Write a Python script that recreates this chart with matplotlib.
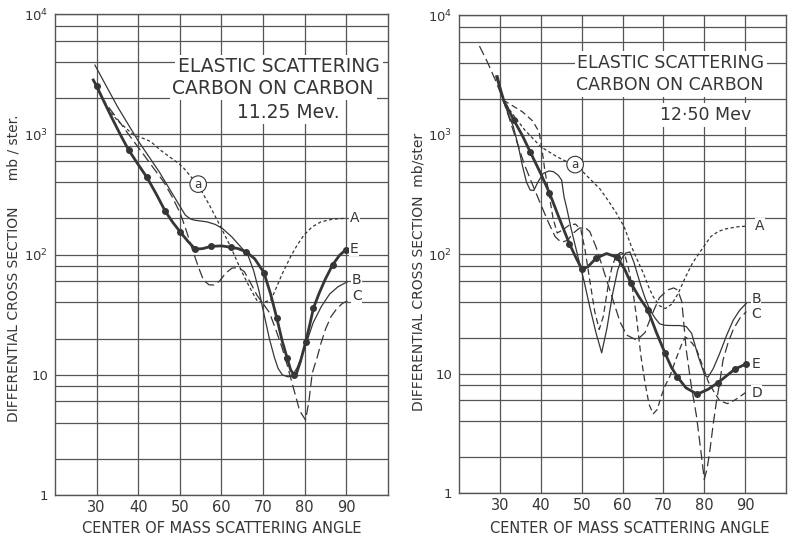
"""
Elastic scattering of carbon on carbon: differential cross section vs
centre-of-mass angle, at 11.25 MeV (left) and 12.50 MeV (right).
Curves are read by eye off the scanned figure.
"""
import matplotlib
matplotlib.use("Agg")
import matplotlib.pyplot as plt
from matplotlib.ticker import FixedLocator, NullFormatter

INK = "#363636"
GRID = "#555555"

# --- 11.25 MeV panel ---
L_E_ANG = [29.2, 30, 32, 34, 36, 37.7, 40, 42.1, 44.3, 46.5, 48.3, 50.1, 52, 53.7,
           55.5, 57.5, 60, 62.2, 64, 66, 68, 70.2, 71.8, 73.3, 74.6, 75.8, 76.6,
           77.4, 78, 79, 80.2, 81.2, 82.1, 83.5, 85, 86.7, 88.3, 89.9]
L_E_XS = [2830, 2520, 1800, 1300, 950, 740, 560, 438, 320, 229, 185, 154, 128, 111,
          112, 117, 118, 115, 112, 105, 92, 70.6, 47, 29.5, 19, 13.7, 11,
          10, 10.2, 13, 18.6, 26, 35.9, 48, 63, 82, 98, 110]
L_PTS_ANG = [30, 37.7, 42.1, 46.5, 50.1, 53.7, 57.5, 62.2, 66, 70.2, 73.3, 75.8,
             77.4, 80.2, 82.1, 86.7, 89.9]
L_PTS_XS = [2520, 740, 438, 229, 154, 111, 117, 115, 105, 70.6, 29.5, 13.7,
            10, 18.6, 35.9, 82, 110]

L_A_ANG = [29.6, 31, 32.4, 35, 38.9, 41, 43, 45.3, 47.5, 49.7, 51, 52.5, 54.4, 57.3,
           59.8, 62.2, 64.2, 66, 67.5, 68.6, 70, 71.8, 72.6, 74.5, 76.6, 78.2, 79.8,
           81.8, 83.9, 86.5, 89.5]
L_A_XS = [2700, 2100, 1700, 1300, 986, 930, 870, 740, 650, 573, 520, 450, 380, 250,
          170, 116, 81, 60, 48, 41, 40, 41.7, 47.6, 68, 96, 120, 145,
          170, 187, 196, 200]

L_B_ANG = [29.6, 35, 40, 45, 49.5, 51.3, 52.5, 53.5, 55, 56.5, 58.5, 60.2, 62.5, 64.6,
           66.3, 67.7, 69, 70.3, 71.5, 72.7, 73.6, 74.6, 76, 77, 78.2, 79.2, 80.2,
           82, 84, 86, 88, 90.3]
L_B_XS = [3760, 1700, 880, 490, 270, 213, 198, 193, 190, 187, 178, 165, 140, 116,
          100, 74, 50, 31, 20, 14, 11.3, 10, 9.6, 9.8, 11.5, 14, 17.5,
          27, 37, 47, 54, 59.5]

L_C_ANG = [29.5, 31.6, 35, 38, 41, 44, 46.1, 48.2, 50.1, 51.5, 53, 54.5, 55.7, 57,
           58.2, 59.5, 61, 62.5, 64, 65.5, 67, 68.5, 70, 71.5, 73, 74.5, 75.8, 77.4,
           78.8, 80.2, 81, 81.8, 83, 83.9, 85, 86.3, 87.7, 89.1, 90.6]
L_C_XS = [2700, 1930, 1340, 965, 700, 505, 403, 300, 220, 160, 110, 78, 61, 56,
          55.8, 60, 70, 77, 78, 72, 58, 46, 39, 33, 24, 17, 12, 7.5,
          5, 4.2, 6, 10.3, 14, 18.3, 24, 30.4, 35.5, 39.3, 41.7]

# --- 12.50 MeV panel ---
R_E_ANG = [29.2, 31, 33.4, 35.5, 37.4, 40, 42.1, 44.5, 47, 48.5, 50, 51.5, 53.5, 56.1,
           58.6, 60.5, 62, 64, 66.2, 68.3, 70.4, 72, 73.4, 75.5, 78.3, 81, 83.4,
           85.5, 87.5, 90.2]
R_E_XS = [3050, 1900, 1320, 980, 718, 470, 326, 200, 122, 95, 75, 78, 92, 101,
          94, 75, 57.5, 44, 34, 22, 14.8, 11.2, 9.4, 7.6, 6.7, 7.4, 8.4,
          9.6, 10.9, 12]
R_PTS_ANG = [33.4, 37.4, 42.1, 47, 50, 53.5, 58.6, 62, 66.2, 70.4, 73.4, 78.3,
             83.4, 87.5, 90.2]
R_PTS_XS = [1320, 718, 326, 122, 75, 92, 94, 57.5, 34, 14.8, 9.4, 6.7,
            8.4, 10.9, 12]

R_A_ANG = [30.8, 33, 36, 40, 44, 48, 50, 52.3, 54.5, 56.4, 58.5, 60.4, 62.2, 63.7,
           65.1, 66.5, 67.5, 69, 70.5, 72, 73.5, 75.3, 77.2, 79.3, 81.6, 83.5, 85.5,
           88.1, 90.2]
R_A_XS = [1940, 1500, 1100, 790, 650, 556, 500, 416, 350, 283, 220, 169, 115, 88,
          69, 52, 44, 37, 35, 38, 46, 63, 85, 108, 140, 155, 163,
          169, 171]

R_B_ANG = [29.5, 30.8, 32, 33.3, 34.5, 35.5, 36.5, 37.4, 38.3, 39.3, 40.6, 42, 43.1,
           44.3, 45.1, 45.7, 46.5, 47.4, 49, 50.6, 52, 53.5, 54.9, 56.2, 57.5, 58.8,
           59.8, 60.8, 61.8, 62.8, 64.3, 65.5, 66.7, 68, 69.1, 70.5, 72.4, 74, 75.6,
           76.9, 78.5, 80.1, 80.9, 82.2, 83.8, 85.5, 87.1, 88.7, 90.3]
R_B_XS = [3100, 1940, 1500, 1160, 800, 550, 400, 343, 340, 400, 473, 495, 489,
          455, 416, 300, 230, 164, 98, 59, 36, 22, 14.9, 24, 45, 73,
          92, 102, 104, 85, 57, 43, 34, 29, 26, 25.3, 25.2, 25.2, 24.7,
          21.7, 14, 9.7, 9.3, 11, 14.8, 21, 28, 34, 38.7]

R_C_ANG = [25, 27, 29, 30.8, 32.5, 34, 36, 38, 40, 42, 43.5, 45, 46.5, 48, 49.5, 51,
           52, 53.5, 55, 56.5, 58, 59.4, 61, 63.5, 65.5, 67, 69, 71, 72.5, 73.5,
           74.5, 75.6, 76.8, 78.1, 79.2, 80, 80.7, 81.4, 82.2, 83, 83.8, 84.6, 85.8,
           87.1, 88.7, 90.3]
R_C_XS = [5500, 4000, 2800, 1940, 1300, 900, 560, 380, 260, 180, 140, 125, 130, 150,
          165, 165, 154, 115, 80, 55, 38, 27, 21, 19, 22, 30, 43, 50, 52, 50,
          40, 15.7, 8, 4.4, 2.2, 1.3, 1.6, 2.3, 3.8, 5.9, 8.5, 13, 18,
          23.4, 29, 33]

R_D_ANG = [30.8, 33, 35.5, 38, 39.6, 40.3, 41, 42, 43, 44, 45.5, 47, 48.5, 49.8, 50.8,
           52, 53.2, 54.3, 55.3, 56.5, 57.5, 58.5, 59.5, 60.5, 61.5, 62.5, 63.4, 64.5,
           65.5, 66.5, 67.5, 68.5, 69.5, 70.5, 71.6, 73, 74.8, 75.6, 77, 78.1, 80,
           81, 82.2, 83.8, 85.7, 87.5, 90.3]
R_D_XS = [1940, 1750, 1550, 1300, 1050, 750, 500, 320, 200, 150, 160, 175, 178, 160,
          110, 60, 33, 23.4, 30, 55, 80, 97, 103, 100, 75, 50, 30, 14,
          8.4, 5.5, 4.6, 5, 6.5, 8, 9.5, 13, 18.8, 20, 18, 16, 10.6,
          8.5, 7.2, 5.9, 5.6, 6, 7]

TITLE_L = ["ELASTIC SCATTERING", "CARBON ON CARBON", "11.25 Mev."]
TITLE_R = ["ELASTIC SCATTERING", "CARBON ON CARBON", "12·50 Mev"]
XTICKS = [30, 40, 50, 60, 70, 80, 90]
YTICKS = [1, 10, 100, 1000, 10000]
YTICK_LABELS = ["1", "10", "$10^2$", "$10^3$", "$10^4$"]
YMINOR = [m * d for d in (1, 10, 100, 1000) for m in (2, 4, 6, 8)]

SHORT = (0, (2.6, 2.0))
LONG = (0, (8.0, 3.5))
MEDIUM = (0, (5.0, 3.0))


def frame(ax, ylabel, ylab_xy, xlab_xy):
    ax.set_yscale("log")
    ax.set_xlim(20, 100)
    ax.set_ylim(1, 1e4)
    ax.xaxis.set_major_locator(FixedLocator(XTICKS))
    ax.yaxis.set_major_locator(FixedLocator(YTICKS))
    ax.yaxis.set_minor_locator(FixedLocator(YMINOR))
    ax.yaxis.set_minor_formatter(NullFormatter())
    ax.set_yticklabels(YTICK_LABELS)
    ax.tick_params(which="both", length=0, colors=INK)
    ax.tick_params(axis="x", pad=3.5, labelsize=10.5)
    ax.tick_params(axis="y", pad=5, labelsize=9.5)
    ax.grid(True, which="both", color=GRID, linewidth=0.9)
    ax.set_axisbelow(True)
    for s in ax.spines.values():
        s.set_color(GRID)
        s.set_linewidth(1.0)
    ax.set_xlabel("CENTER OF MASS SCATTERING ANGLE", color=INK, fontsize=10.5)
    ax.set_ylabel(ylabel, color=INK, fontsize=10)
    ax.xaxis.set_label_coords(*xlab_xy)
    ax.yaxis.set_label_coords(*ylab_xy)


def title(ax, lines, xs, ys, size):
    for txt, x, y in zip(lines, xs, ys):
        ax.text(x, y, txt, transform=ax.transAxes, ha="center", va="center",
                fontsize=size, color=INK,
                bbox=dict(facecolor="white", edgecolor="none", pad=2))


def tag(ax, x, y, s):
    ax.text(x, y, s, ha="left", va="center", fontsize=10, color=INK,
            bbox=dict(facecolor="white", edgecolor="none", pad=0.3))


fig = plt.figure(figsize=(7.91, 5.40), dpi=100)
fig.patch.set_facecolor("white")
ax1 = fig.add_axes([0.0695, 0.0833, 0.421, 0.8907])
ax2 = fig.add_axes([0.5803, 0.0870, 0.4134, 0.8852])

# left panel
frame(ax1, "DIFFERENTIAL CROSS SECTION      mb / ster.", (-0.103, 0.472), (0.5, -0.054))
ax1.plot(L_A_ANG, L_A_XS, color=INK, lw=0.9, ls=SHORT)
ax1.plot(L_B_ANG, L_B_XS, color=INK, lw=0.9)
ax1.plot(L_C_ANG, L_C_XS, color=INK, lw=0.9, ls=LONG)
ax1.plot(L_E_ANG, L_E_XS, color=INK, lw=2.0)
ax1.plot(L_PTS_ANG, L_PTS_XS, "o", color=INK, ms=4)
title(ax1, TITLE_L, [0.673, 0.655, 0.70], [0.890, 0.846, 0.796], 13.5)
ax1.text(54.4, 385, "a", ha="center", va="center", fontsize=8.5, color=INK,
         bbox=dict(boxstyle="circle,pad=0.15", facecolor="white", edgecolor=INK, lw=0.8))
tag(ax1, 90.8, 200, "A")
tag(ax1, 90.8, 111, "E")
tag(ax1, 91.3, 61, "B")
tag(ax1, 91.3, 45, "C")

# right panel
frame(ax2, "DIFFERENTIAL CROSS SECTION  mb/ster", (-0.104, 0.462), (0.523, -0.059))
ax2.plot(R_A_ANG, R_A_XS, color=INK, lw=0.9, ls=SHORT)
ax2.plot(R_B_ANG, R_B_XS, color=INK, lw=0.9)
ax2.plot(R_C_ANG, R_C_XS, color=INK, lw=0.9, ls=LONG)
ax2.plot(R_D_ANG, R_D_XS, color=INK, lw=0.9, ls=MEDIUM)
ax2.plot(R_E_ANG, R_E_XS, color=INK, lw=2.0)
ax2.plot(R_PTS_ANG, R_PTS_XS, "o", color=INK, ms=4)
title(ax2, TITLE_R, [0.648, 0.645, 0.754], [0.9, 0.854, 0.791], 12.5)
ax2.text(48.4, 560, "a", ha="center", va="center", fontsize=8.5, color=INK,
         bbox=dict(boxstyle="circle,pad=0.15", facecolor="white", edgecolor=INK, lw=0.8))
tag(ax2, 92.5, 172, "A")
tag(ax2, 91.5, 42, "B")
tag(ax2, 91.5, 31.5, "C")
tag(ax2, 91.5, 12, "E")
tag(ax2, 91.5, 6.9, "D")

fig.savefig("out.png", dpi=100, facecolor="white")
